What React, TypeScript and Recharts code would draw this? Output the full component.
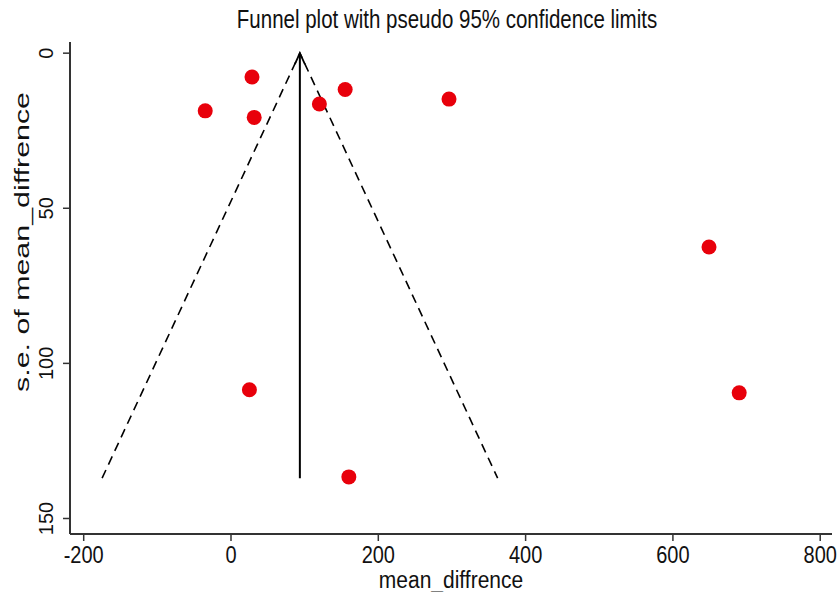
import React from 'react';
import { ScatterChart, Scatter, XAxis, YAxis } from 'recharts';

// Study estimates
const meanDiff = [28.5, -35, 31.5, 120, 155, 296, 649, 25, 160, 690];
const seMeanDiff = [7.7, 18.6, 20.7, 16.4, 11.7, 14.8, 62.5, 108.5, 136.6, 109.5];
const xTicks = [-200, 0, 200, 400, 600, 800];
const yTicks = [0, 50, 100, 150];
const pooledEstimate = 93.5;
const maxSe = 137;

const studies = meanDiff.map((x, i) => ({ x, y: seMeanDiff[i] }));
const funnel = [
  { x: pooledEstimate - 1.96 * maxSe, y: maxSe },
  { x: pooledEstimate, y: 0 },
  { x: pooledEstimate + 1.96 * maxSe, y: maxSe },
];
const centre = [
  { x: pooledEstimate, y: maxSe },
  { x: pooledEstimate, y: 0 },
];

const FONT = '"Liberation Sans", Arial, Helvetica, sans-serif';
const W = 838;
const H = 592;

const Dot = (p: any) => <circle cx={p.cx} cy={p.cy} r={7.5} fill="#e8000b" />;
const NoDot = () => <g />;
const Arrow = (p: any) => {
  const v = p.payload ? p.payload.y : p.y;
  if (v !== 0) return <g />;
  const { cx, cy } = p;
  return (
    <path
      d={`M${cx - 5},${cy + 11} L${cx},${cy} L${cx + 5},${cy + 11}`}
      stroke="#000"
      strokeWidth={1.8}
      fill="none"
    />
  );
};

const XTick = (p: any) => (
  <text
    transform={`translate(${p.x}, ${p.y + 20}) scale(1, 1.2)`}
    x={0}
    y={0}
    textAnchor="middle"
    fontSize={20}
    fontFamily={FONT}
    fill="#111"
  >
    {p.payload.value}
  </text>
);
const YTick = (p: any) => {
  const tx = p.x - 8;
  return (
    <text
      x={tx}
      y={p.y}
      transform={`rotate(-90, ${tx}, ${p.y})`}
      textAnchor="middle"
      fontSize={20}
      fontFamily={FONT}
      fill="#111"
    >
      {p.payload.value}
    </text>
  );
};

export default function App() {
  return (
    <div style={{ position: 'absolute', left: 0, top: 0, width: W, height: H, background: '#fff' }}>
      <ScatterChart width={W} height={H} margin={{ top: 42, right: 6, left: 0, bottom: 0 }}>
        <XAxis
          type="number"
          dataKey="x"
          domain={[-218.6, 816]}
          ticks={xTicks}
          allowDataOverflow
          height={58}
          tickSize={7}
          tick={XTick}
          tickLine={{ stroke: '#333', strokeWidth: 1.5 }}
          axisLine={{ stroke: '#333', strokeWidth: 2 }}
        />
        <YAxis
          type="number"
          dataKey="y"
          domain={[-3.6, 155]}
          reversed
          ticks={yTicks}
          allowDataOverflow
          width={70}
          tickSize={7}
          tick={YTick}
          tickLine={{ stroke: '#333', strokeWidth: 1.5 }}
          axisLine={{ stroke: '#333', strokeWidth: 2 }}
        />
        <Scatter
          data={funnel}
          line={{ stroke: '#000', strokeWidth: 1.6, strokeDasharray: '9 6' }}
          lineType="joint"
          shape={NoDot}
          isAnimationActive={false}
        />
        <Scatter
          data={centre}
          line={{ stroke: '#000', strokeWidth: 2 }}
          lineType="joint"
          shape={Arrow}
          isAnimationActive={false}
        />
        <Scatter data={studies} shape={Dot} isAnimationActive={false} />
      </ScatterChart>
      <svg
        width={W}
        height={H}
        style={{ position: 'absolute', left: 0, top: 0, pointerEvents: 'none', overflow: 'visible' }}
      >
        <text
          transform="translate(447, 28) scale(1, 1.3)"
          x={0}
          y={0}
          textAnchor="middle"
          fontSize={20.5}
          fontFamily={FONT}
          fill="#111"
        >
          Funnel plot with pseudo 95% confidence limits
        </text>
        <text
          transform="translate(451, 588) scale(1, 1.1)"
          x={0}
          y={0}
          textAnchor="middle"
          fontSize={21}
          fontFamily={FONT}
          fill="#111"
        >
          mean_diffrence
        </text>
        <text
          x={29}
          y={242}
          transform="rotate(-90, 29, 242)"
          textAnchor="middle"
          fontSize={20}
          textLength={300}
          lengthAdjust="spacingAndGlyphs"
          fontFamily={FONT}
          fill="#111"
        >
          s.e. of mean_diffrence
        </text>
      </svg>
    </div>
  );
}
